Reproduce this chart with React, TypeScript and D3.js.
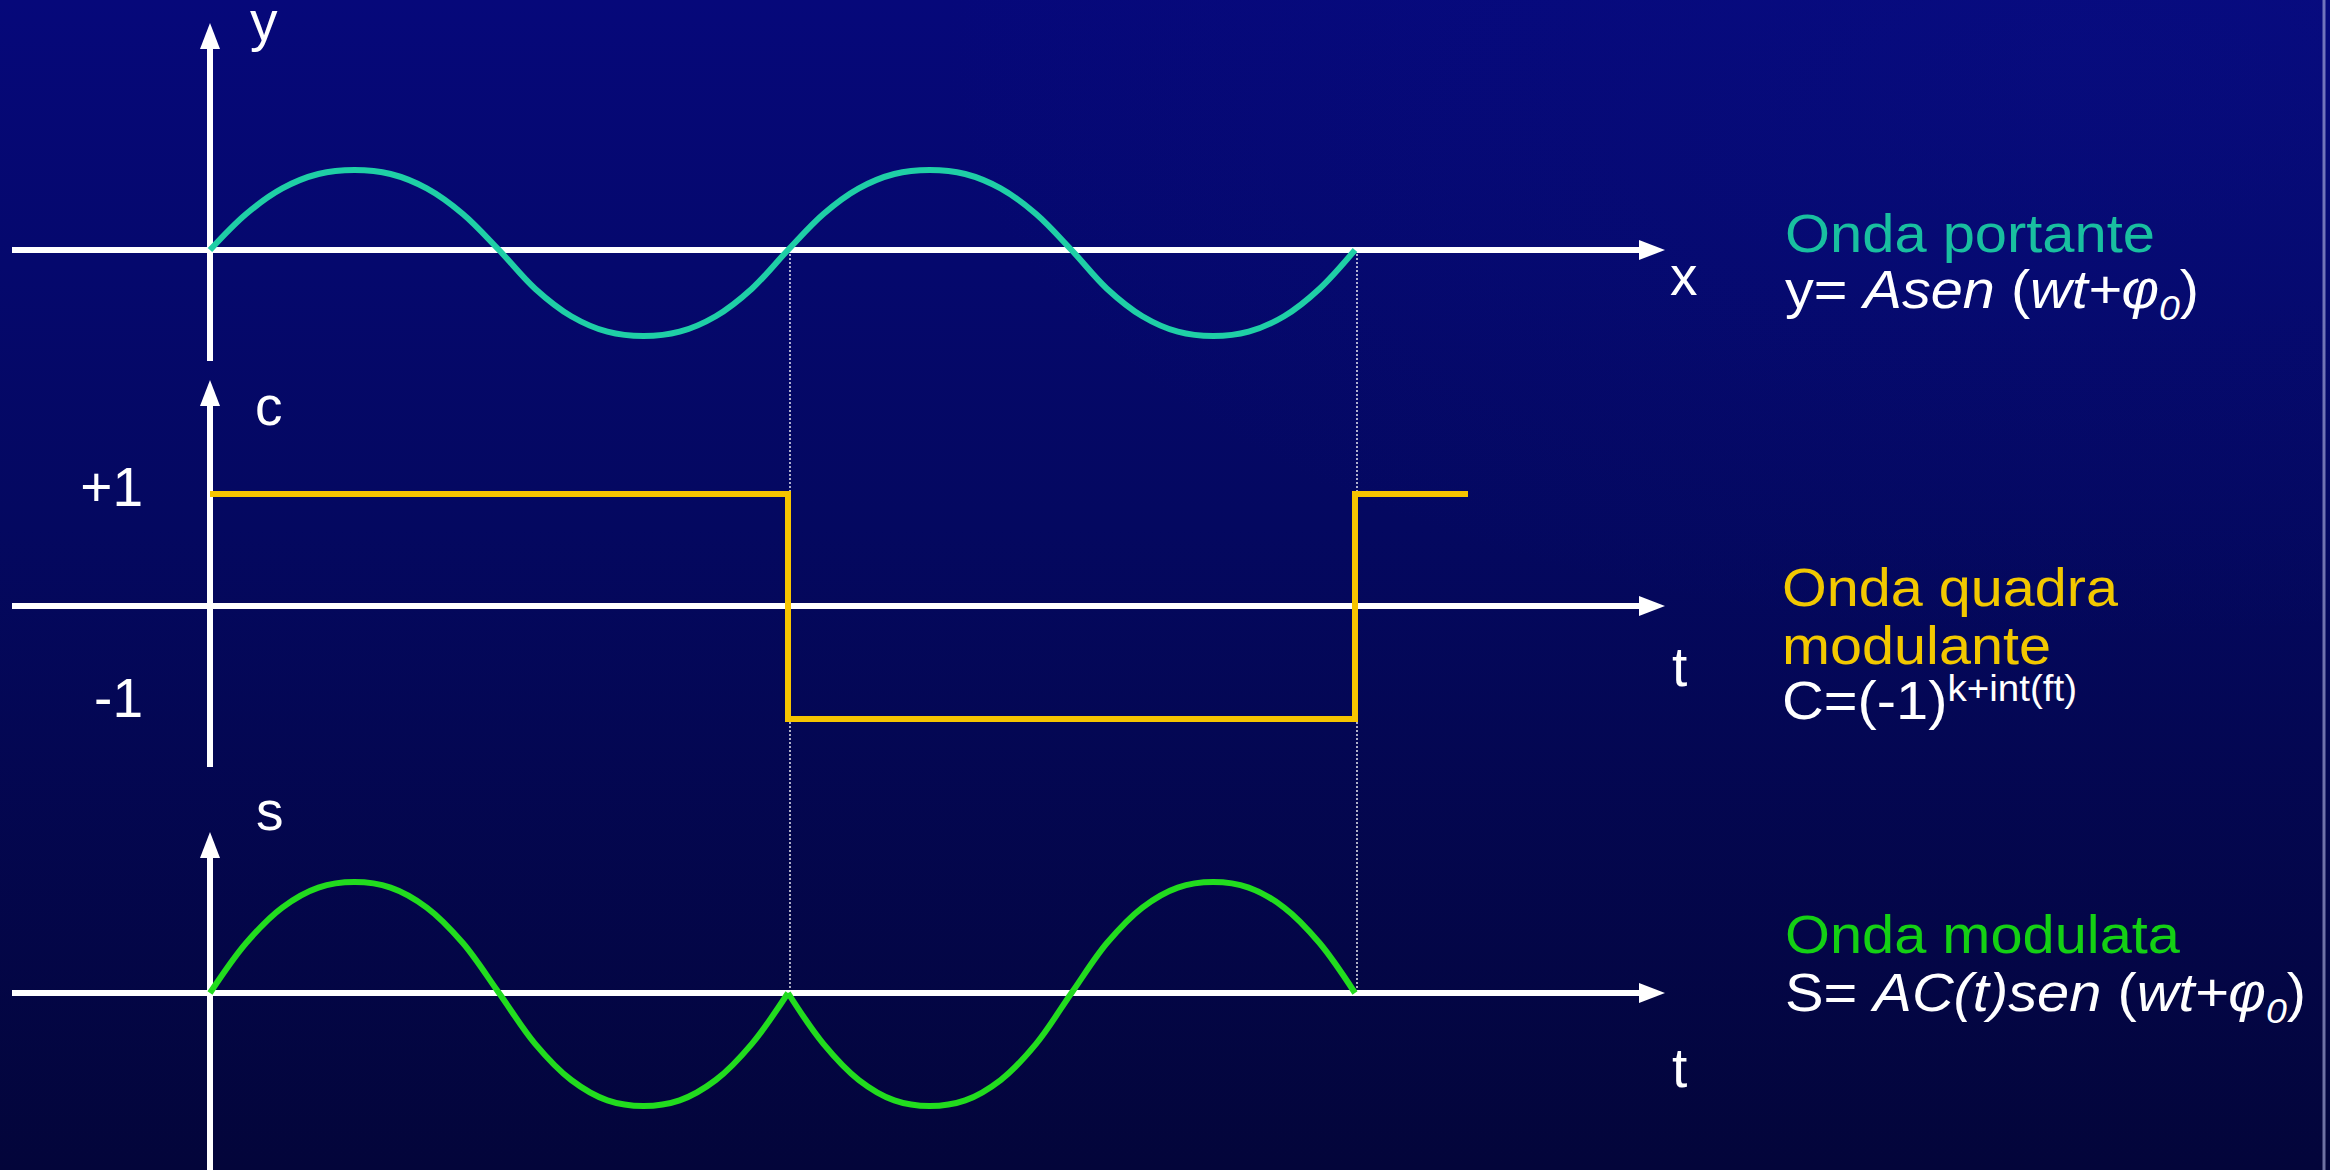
import React from "react";
import * as d3 from "d3";

// ---- data ----
// one carrier period sampled every 1/16 of a period (two periods shown)
const carrierValues = [
  0, 0.45, 0.77, 0.95, 1, 0.95, 0.77, 0.45, 0, -0.45, -0.77, -0.95, -1, -0.95, -0.77, -0.45,
  0, 0.45, 0.77, 0.95, 1, 0.95, 0.77, 0.45, 0, -0.45, -0.77, -0.95, -1, -0.95, -0.77, -0.45, 0,
];
// square modulating wave: [start, end, level] in periods
const modulatorSteps: [number, number, number][] = [
  [0, 1, 1],
  [1, 2, -1],
  [2, 2.2, 1],
];
// modulated wave, first period (C = +1) and second period (C = -1)
const modulatedFirst = [0, 0.45, 0.77, 0.95, 1, 0.95, 0.77, 0.45, 0, -0.45, -0.77, -0.95, -1, -0.95, -0.77, -0.45, 0];
const modulatedSecond = [0, -0.45, -0.77, -0.95, -1, -0.95, -0.77, -0.45, 0, 0.45, 0.77, 0.95, 1, 0.95, 0.77, 0.45, 0];
const boundaries = [1, 2]; // dotted guide lines (periods)
const levelLabels = ["+1", "-1"];

const STEP = 1 / 16;

const W = 2330;
const H = 1170;
const FONT = "'Liberation Sans', Arial, sans-serif";

const COL_CARRIER = "#1fcfa6";
const COL_CARRIER_TXT = "#19bfa0";
const COL_YELLOW = "#f6c400";
const COL_YELLOW_TXT = "#f2c800";
const COL_GREEN = "#22dc1e";
const COL_GREEN_TXT = "#14d014";

export default function App() {
  const x = d3.scaleLinear().domain([0, 1, 2]).range([210, 788, 1355]);
  const x2 = d3.scaleLinear().domain([2, 2.2]).range([1355, 1468]);
  const xs = (t: number) => (t <= 2 ? x(t) : x2(t));

  const yTop = d3.scaleLinear().domain([-1, 0, 1]).range([336, 250, 170]);
  const yMid = d3.scaleLinear().domain([-1, 0, 1]).range([719, 606, 494]);
  const yBot = d3.scaleLinear().domain([-1, 0, 1]).range([1106, 993, 882]);

  const carrierLine = d3
    .line<number>()
    .x((_, i) => x(i * STEP))
    .y((v) => yTop(v))
    .curve(d3.curveCatmullRom);

  const modLine = (offset: number) =>
    d3
      .line<number>()
      .x((_, i) => x(offset + i * STEP))
      .y((v) => yBot(v))
      .curve(d3.curveCatmullRom);

  // square wave path
  const sqPts: [number, number][] = [];
  modulatorSteps.forEach(([a, b, lv]) => {
    sqPts.push([xs(a), yMid(lv)]);
    sqPts.push([xs(b), yMid(lv)]);
  });
  const sqPath = d3.line()(sqPts) as string;

  const axisX0 = 12;
  const axisX1 = 1665;
  const yAxisX = 210;
  const arrowLen = 26;
  const arrowHalf = 10;

  const hAxis = (y: number) => (
    <g>
      <line x1={axisX0} x2={axisX1 - arrowLen + 2} y1={y} y2={y} stroke="#fff" strokeWidth={6} />
      <path
        d={`M${axisX1},${y} L${axisX1 - arrowLen},${y - arrowHalf} L${axisX1 - arrowLen},${y + arrowHalf} Z`}
        fill="#fff"
      />
    </g>
  );
  const vAxis = (tip: number, bottom: number) => (
    <g>
      <line x1={yAxisX} x2={yAxisX} y1={tip + arrowLen - 2} y2={bottom} stroke="#fff" strokeWidth={6} />
      <path
        d={`M${yAxisX},${tip} L${yAxisX - arrowHalf},${tip + arrowLen} L${yAxisX + arrowHalf},${tip + arrowLen} Z`}
        fill="#fff"
      />
    </g>
  );

  const labelStyle = { fontFamily: FONT, fontSize: 55, fill: "#fff" } as const;
  const textStyle = { fontFamily: FONT, fontSize: 54 } as const;

  return (
    <svg
      width={W}
      height={H}
      style={{ position: "absolute", left: 0, top: 0, display: "block" }}
      xmlns="http://www.w3.org/2000/svg"
    >
      <defs>
        <linearGradient id="bg" x1="0" y1="0" x2="0" y2="1">
          <stop offset="0%" stopColor="#06087a" />
          <stop offset="45%" stopColor="#040860" />
          <stop offset="100%" stopColor="#03053a" />
        </linearGradient>
        <radialGradient id="glow" cx="0.9" cy="0.05" r="0.5">
          <stop offset="0%" stopColor="#1020a0" stopOpacity={0.15} />
          <stop offset="100%" stopColor="#1020a0" stopOpacity={0} />
        </radialGradient>
      </defs>
      <rect x={0} y={0} width={W} height={H} fill="url(#bg)" />
      <rect x={0} y={0} width={W} height={H} fill="url(#glow)" />
      <line x1={2324} x2={2324} y1={0} y2={H} stroke="#b8bce8" strokeWidth={3} opacity={0.6} />

      {/* dotted guides */}
      {boundaries.map((b) => (
        <line
          key={b}
          x1={x(b) + 2}
          x2={x(b) + 2}
          y1={yTop(0)}
          y2={yBot(0)}
          stroke="#fff"
          strokeWidth={1.6}
          strokeDasharray="2,2"
          opacity={0.85}
        />
      ))}

      {/* axes */}
      {hAxis(yTop(0))}
      {hAxis(yMid(0))}
      {hAxis(yBot(0))}
      {vAxis(23, 361)}
      {vAxis(380, 767)}
      {vAxis(832, H)}

      {/* waves */}
      <path d={carrierLine(carrierValues) as string} fill="none" stroke={COL_CARRIER} strokeWidth={6} />
      <path d={sqPath} fill="none" stroke={COL_YELLOW} strokeWidth={6} strokeLinejoin="miter" />
      <path d={modLine(0)(modulatedFirst) as string} fill="none" stroke={COL_GREEN} strokeWidth={6} />
      <path d={modLine(1)(modulatedSecond) as string} fill="none" stroke={COL_GREEN} strokeWidth={6} />

      {/* axis labels */}
      <text x={250} y={40} style={labelStyle}>y</text>
      <text x={1670} y={295} style={labelStyle}>x</text>
      <text x={255} y={425} style={labelStyle}>c</text>
      <text x={1672} y={686} style={labelStyle}>t</text>
      <text x={256} y={830} style={labelStyle}>s</text>
      <text x={1672} y={1087} style={labelStyle}>t</text>
      <text x={143} y={506} textAnchor="end" style={labelStyle}>{levelLabels[0]}</text>
      <text x={143} y={717} textAnchor="end" style={labelStyle}>{levelLabels[1]}</text>

      {/* right-hand captions */}
      <text x={1785} y={252} style={{ ...textStyle, fill: COL_CARRIER_TXT }} textLength={370} lengthAdjust="spacingAndGlyphs">
        Onda portante
      </text>
      <text x={1785} y={308} style={{ ...textStyle, fill: "#fff" }} textLength={414} lengthAdjust="spacingAndGlyphs">
        y= <tspan fontStyle="italic">Asen</tspan> (<tspan fontStyle="italic">wt+φ</tspan>
        <tspan fontStyle="italic" fontSize={35} dy={12}>0</tspan>
        <tspan dy={-12}>)</tspan>
      </text>

      <text x={1782} y={606} style={{ ...textStyle, fill: COL_YELLOW_TXT }} textLength={336} lengthAdjust="spacingAndGlyphs">
        Onda quadra
      </text>
      <text x={1782} y={664} style={{ ...textStyle, fill: COL_YELLOW_TXT }} textLength={269} lengthAdjust="spacingAndGlyphs">
        modulante
      </text>
      <text x={1782} y={719} style={{ ...textStyle, fill: "#fff" }} textLength={295} lengthAdjust="spacingAndGlyphs">
        C=(-1)<tspan fontSize={36} dy={-18}>k+int(ft)</tspan>
      </text>

      <text x={1785} y={953} style={{ ...textStyle, fill: COL_GREEN_TXT }} textLength={395} lengthAdjust="spacingAndGlyphs">
        Onda modulata
      </text>
      <text x={1785} y={1011} style={{ ...textStyle, fill: "#fff" }} textLength={521} lengthAdjust="spacingAndGlyphs">
        S= <tspan fontStyle="italic">AC(t)sen</tspan> (<tspan fontStyle="italic">wt+φ</tspan>
        <tspan fontStyle="italic" fontSize={35} dy={12}>0</tspan>
        <tspan dy={-12}>)</tspan>
      </text>
    </svg>
  );
}
